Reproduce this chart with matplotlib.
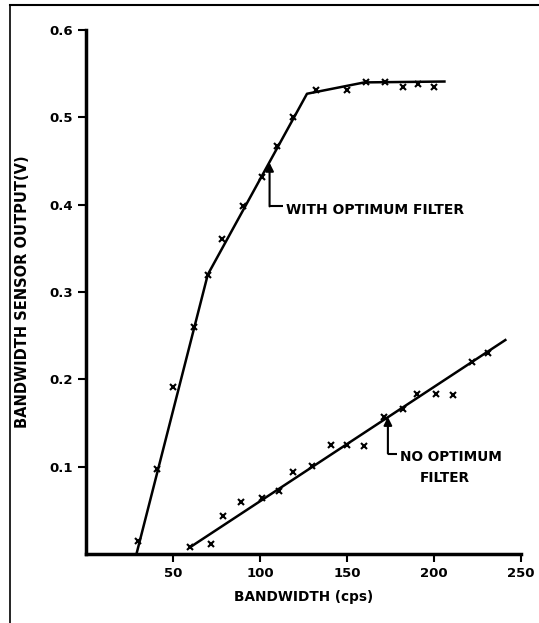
import matplotlib
matplotlib.use("Agg")
import matplotlib.pyplot as plt
from matplotlib.lines import Line2D

# Data: with optimum filter
with_x = [30, 41, 50, 62, 70, 78, 90, 101, 110, 119, 132, 150, 161, 172, 182, 191, 200]
with_y = [0.015, 0.097, 0.191, 0.260, 0.320, 0.361, 0.398, 0.432, 0.467, 0.500, 0.531, 0.531, 0.540, 0.540, 0.535, 0.538, 0.535]
with_fit_x = [29, 70, 127, 160, 206]
with_fit_y = [0.0, 0.320, 0.527, 0.540, 0.541]

# Data: no optimum filter
no_x = [60, 72, 79, 89, 101, 111, 119, 130, 141, 150, 160, 171, 182, 190, 201, 211, 222, 231]
no_y = [0.008, 0.012, 0.043, 0.060, 0.064, 0.072, 0.094, 0.101, 0.125, 0.125, 0.124, 0.157, 0.166, 0.183, 0.183, 0.182, 0.220, 0.230]
no_fit_x = [60, 241]
no_fit_y = [0.008, 0.245]

x_ticks = [50, 100, 150, 200, 250]
y_ticks = [0.1, 0.2, 0.3, 0.4, 0.5, 0.6]

plt.rcParams['font.family'] = ['DejaVu Sans']
fig = plt.figure(figsize=(5.39, 6.23), dpi=100)
ax = fig.add_axes([86/539, 1-554/623, (521-86)/539, (554-30)/623])

ax.plot(with_fit_x, with_fit_y, color='black', lw=1.8)
ax.plot(with_x, with_y, linestyle='none', marker='x', color='black', ms=5, mew=1.5)
ax.plot(no_fit_x, no_fit_y, color='black', lw=1.8)
ax.plot(no_x, no_y, linestyle='none', marker='x', color='black', ms=5, mew=1.5)

ax.set_xlim(0, 250)
ax.set_ylim(0, 0.6)
ax.set_xticks(x_ticks)
ax.set_xticklabels([str(v) for v in x_ticks])
ax.set_yticks(y_ticks)
ax.set_yticklabels([f"{v:.1f}" for v in y_ticks])
for s in ['top', 'right']:
    ax.spines[s].set_visible(False)
for s in ['left', 'bottom']:
    ax.spines[s].set_linewidth(2.5)
ax.tick_params(axis='both', direction='out', length=6, width=1.5, labelsize=9.5)
for lab in ax.get_xticklabels() + ax.get_yticklabels():
    lab.set_fontweight('bold')

ax.set_xlabel("BANDWIDTH (cps)", fontsize=9.8, fontweight='bold', labelpad=7)
ax.set_ylabel("BANDWIDTH SENSOR OUTPUT(V)", fontsize=10.5, fontweight='bold', labelpad=13.5)

# annotations
ax.annotate("", xy=(105.5, 0.448), xytext=(105.5, 0.398),
            arrowprops=dict(arrowstyle='-|>', color='black', lw=1.5, mutation_scale=12,
                            shrinkA=0, shrinkB=0))
ax.plot([105.5, 113.5], [0.398, 0.398], color='black', lw=1.5, solid_capstyle='butt')
ax.text(115, 0.394, "WITH OPTIMUM FILTER", fontsize=10, fontweight='bold', va='center', ha='left')

ax.annotate("", xy=(173.5, 0.157), xytext=(173.5, 0.115),
            arrowprops=dict(arrowstyle='-|>', color='black', lw=1.5, mutation_scale=12,
                            shrinkA=0, shrinkB=0))
ax.plot([173.5, 179], [0.115, 0.115], color='black', lw=1.5, solid_capstyle='butt')
ax.text(180.5, 0.111, "NO OPTIMUM", fontsize=9.8, fontweight='bold', va='center', ha='left')
ax.text(206, 0.087, "FILTER", fontsize=9.8, fontweight='bold', va='center', ha='center')

# frame lines (top and left)
fig.add_artist(Line2D([10/539, 1], [1-5/623, 1-5/623], transform=fig.transFigure, color='black', lw=1.5))
fig.add_artist(Line2D([10/539, 10/539], [0, 1-5/623], transform=fig.transFigure, color='black', lw=1.2))

fig.savefig("out.png", dpi=100)
